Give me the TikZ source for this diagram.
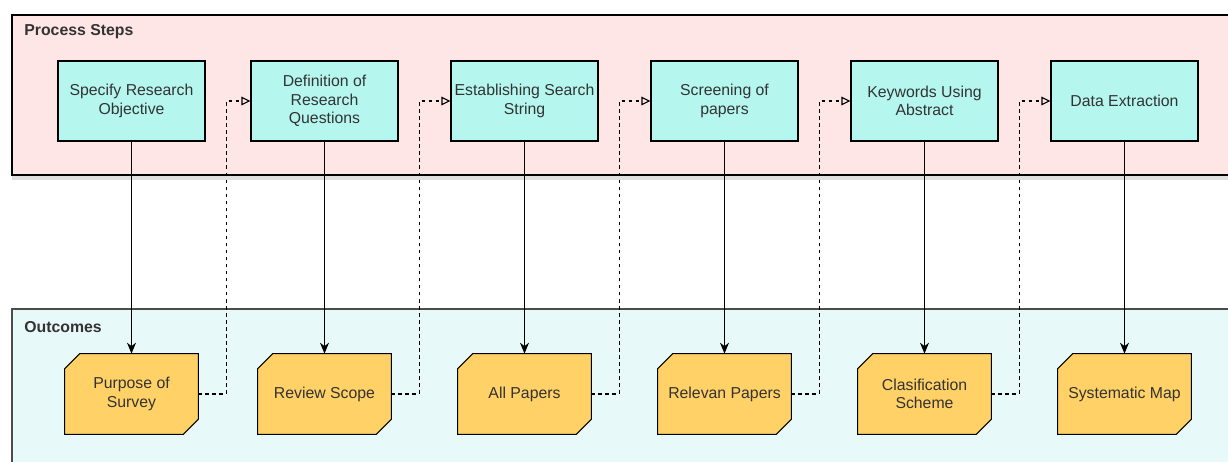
\documentclass[tikz,border=0pt]{standalone}
\usepackage{fontspec}
\setmainfont{Liberation Sans}
\usetikzlibrary{arrows.meta,calc,shadows}

\definecolor{stepsbg}{HTML}{FFE6E6}
\definecolor{outbg}{HTML}{E8F9F9}
\definecolor{stepfill}{HTML}{B5F7EE}
\definecolor{outfill}{HTML}{FFD166}
\definecolor{textgray}{HTML}{333333}

\pgfdeclarelayer{lanes}
\pgfdeclarelayer{shapes}
\pgfsetlayers{lanes,shapes,main}

\tikzset{
	boxfont/.style={font=\fontsize{9}{10.6}\selectfont, text=textgray},
	stepbox/.style={draw, fill=stepfill, line width=0.6pt, minimum width=2.94cm, minimum height=1.6cm, align=center, inner sep=1pt, boxfont},
	outbox/.style={rectangle, minimum width=2.66cm, minimum height=1.6cm, align=center, inner sep=1pt, boxfont},
	outline/.style={draw, fill=outfill, line width=0.6pt, line join=miter},
	lane/.style={font=\bfseries\fontsize{9}{10.6}\selectfont, text=textgray, anchor=west, inner sep=0pt},
	result/.style={line width=0.65pt, -{Stealth[length=2.2mm,width=1.8mm]}},
	next/.style={line width=0.65pt, dash pattern=on 2pt off 2pt, -{Triangle[open,length=1.8mm,width=1.7mm]}}
}

\begin{document}
\begin{tikzpicture}[x=0.02cm,y=-0.02cm]
	
	\useasboundingbox (0,0) rectangle (1228,462);
	\clip (0,0) rectangle (1228,462);
	
	% Lanes
	\begin{pgfonlayer}{lanes}
	\draw[fill=stepsbg, line width=0.6pt, drop shadow={shadow xshift=0pt, shadow yshift=-3pt, opacity=0.25}] (12,15) rectangle (1240,175);
	\draw[fill=outbg, line width=0.6pt, draw=black!70] (12,309) rectangle (1240,480);
	\end{pgfonlayer}
	\node[lane] (steps) at (24,32) {Process Steps};
	\node[lane] (outcomes) at (24,327) {Outcomes};
	
	% Process steps
	\node[stepbox] (p1) at (131.5,101) {Specify Research\\Objective};
	\node[stepbox] (p2) at (324.5,101) {Definition of\\Research\\Questions};
	\node[stepbox] (p3) at (524.5,101) {Establishing Search\\String};
	\node[stepbox] (p4) at (724.5,101) {Screening of\\papers};
	\node[stepbox] (p5) at (924.5,101) {Keywords Using\\Abstract};
	\node[stepbox] (p6) at (1124.5,101) {Data Extraction};
	
	% Outcomes
	\node[outbox] (o1) at (131.5,394) {Purpose of\\Survey};
	\node[outbox] (o2) at (324.5,394) {Review Scope};
	\node[outbox] (o3) at (524.5,394) {All Papers};
	\node[outbox] (o4) at (724.5,394) {Relevan Papers};
	\node[outbox] (o5) at (924.5,394) {Clasification\\Scheme};
	\node[outbox] (o6) at (1124.5,394) {Systematic Map};
	
	% cut corners
	\begin{pgfonlayer}{shapes}
	\foreach \i in {1,...,6}
		\draw[outline] ($(o\i.north west)+(15,0)$) -- (o\i.north east) -- ($(o\i.south east)+(0,-15)$)
			-- ($(o\i.south east)+(-15,0)$) -- (o\i.south west) -- ($(o\i.north west)+(0,15)$) -- cycle;
	\end{pgfonlayer}
	
	% Step -> outcome
	\foreach \i in {1,...,6}
		\draw[result] (p\i.south) -- (o\i.north);
	
	% Outcome -> next step
	\foreach \i/\j in {1/2,2/3,3/4,4/5,5/6}
		\draw[next] (o\i.east) -- ++(28,0) |- (p\j.west);
	
\end{tikzpicture}
\end{document}
